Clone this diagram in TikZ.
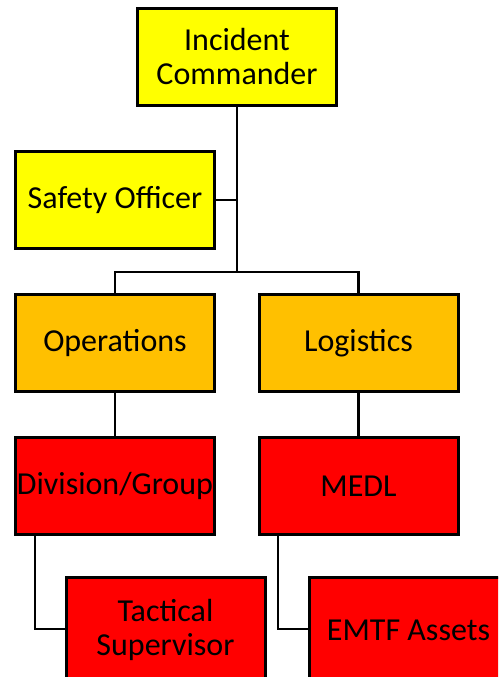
\documentclass[tikz,border=0pt]{standalone}
\usepackage{fontspec}
\setmainfont{Carlito}
\begin{document}
\begin{tikzpicture}[x=1pt,y=-1pt,
  box/.style={draw=black,line width=3pt,minimum width=199pt,minimum height=97pt,inner sep=0pt,align=center,font=\fontsize{32}{34}\selectfont,text=black},
  yel/.style={box,fill={rgb,255:red,255;green,255;blue,0}},
  org/.style={box,fill={rgb,255:red,255;green,192;blue,0}},
  rd/.style={box,fill={rgb,255:red,255;green,0;blue,0}},
  conn/.style={draw=black,line width=2.5pt}]
\useasboundingbox (0,0) rectangle (498,677);
\begin{scope}
\clip (0,0) rectangle (498,677);
\node[yel] (ic) at (237,57) {Incident\\Commander};
\node[yel] (so) at (115,200) {Safety Officer};
\node[org] (ops) at (115,343) {Operations};
\node[org] (log) at (358.5,343) {Logistics};
\node[rd] (div) at (115,486) {Division/Group};
\node[rd] (medl) at (358.5,486) {MEDL};
\node[rd,minimum height=106pt] (tac) at (165.5,630) {Tactical\\Supervisor};
\node[rd,minimum height=106pt] (emtf) at (408.5,630) {EMTF Assets};
\coordinate (bus) at (237,272);
\coordinate (dl) at (35,629);
\coordinate (ml) at (278,629);
\draw[conn] (ic.south) -- (bus);
\draw[conn] (so.east) -- (so.east -| ic.south);
\draw[conn] (ops.north) |- (bus) -| (log.north);
\draw[conn] (ops.south) -- (div.north);
\draw[conn] (log.south) -- (medl.north);
\draw[conn] (dl |- div.south) -- (dl) -- (tac.west |- dl);
\draw[conn] (ml |- medl.south) -- (ml) -- (emtf.west |- ml);
\end{scope}
\end{tikzpicture}
\end{document}
